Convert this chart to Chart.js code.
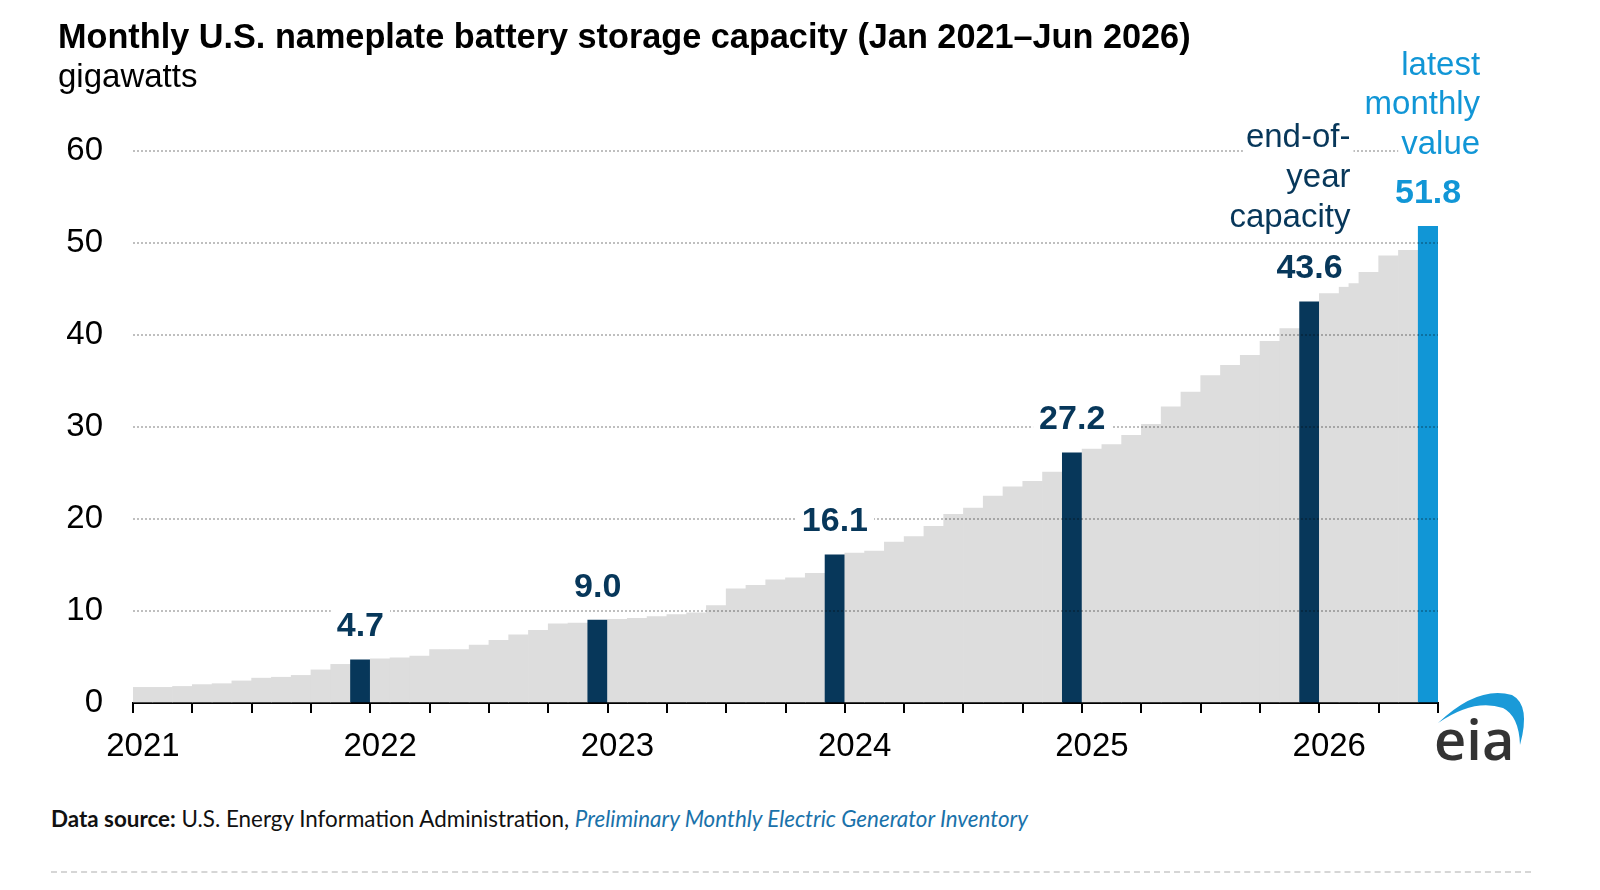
<!DOCTYPE html>
<html>
<head>
<meta charset="utf-8">
<script src="https://cdn.jsdelivr.net/npm/chart.js@4.4.1/dist/chart.umd.min.js"></script>
<style>
  html, body { margin: 0; padding: 0; background: #fff; }
  body { width: 1600px; height: 890px; position: relative; overflow: hidden;
         font-family: "Liberation Sans", Arial, sans-serif; }
  #title { position: absolute; left: 58px; top: 17px; font-size: 34.25px; font-weight: bold;
           color: #000; white-space: nowrap; }
  #unit { position: absolute; left: 58px; top: 57px; font-size: 33px; color: #000; }
  #chartBox { position: absolute; left: 0; top: 0; width: 1600px; height: 790px; }
  #source { position: absolute; left: 51px; top: 805px; font-family: Lato, sans-serif;
            font-size: 22.4px; color: #111; white-space: nowrap; }
  #source i { color: #1a72aa; }
  #rule { position: absolute; left: 51px; top: 871px; width: 1480px; border-top: 2px dashed #d6d6d6; }
  #logo { position: absolute; left: 1428px; top: 683px; }
</style>
</head>
<body>
<div id="chartBox"><canvas id="capChart"></canvas></div>
<div id="title">Monthly U.S. nameplate battery storage capacity (Jan 2021–Jun 2026)</div>
<div id="unit">gigawatts</div>
<div id="source"><b>Data source:</b> U.S. Energy Information Administration, <i>Preliminary Monthly Electric Generator Inventory</i></div>
<div id="rule"></div>
<svg id="logo" width="104" height="84" viewBox="0 0 104 84">
  <path d="M10,40 Q50,2 84,12 Q103,22 92,62 Q91,33 75,25 Q46,15 10,40 Z" fill="#1a9ad8"/>
  <text x="6" y="77" font-family="'Open Sans', sans-serif" font-weight="600" font-size="56" fill="#333">eia</text>
</svg>

<script>
// 1. DATOS
const months = [
  "Jan 2021","Feb 2021","Mar 2021","Apr 2021","May 2021","Jun 2021","Jul 2021","Aug 2021","Sep 2021","Oct 2021","Nov 2021","Dec 2021",
  "Jan 2022","Feb 2022","Mar 2022","Apr 2022","May 2022","Jun 2022","Jul 2022","Aug 2022","Sep 2022","Oct 2022","Nov 2022","Dec 2022",
  "Jan 2023","Feb 2023","Mar 2023","Apr 2023","May 2023","Jun 2023","Jul 2023","Aug 2023","Sep 2023","Oct 2023","Nov 2023","Dec 2023",
  "Jan 2024","Feb 2024","Mar 2024","Apr 2024","May 2024","Jun 2024","Jul 2024","Aug 2024","Sep 2024","Oct 2024","Nov 2024","Dec 2024",
  "Jan 2025","Feb 2025","Mar 2025","Apr 2025","May 2025","Jun 2025","Jul 2025","Aug 2025","Sep 2025","Oct 2025","Nov 2025","Dec 2025",
  "Jan 2026","Feb 2026","Mar 2026","Apr 2026","May 2026","Jun 2026"
];

// gigawatts
const capacityGW = [
  1.7, 1.7, 1.8, 2.0, 2.1, 2.4, 2.7, 2.8, 3.0, 3.6, 4.2, 4.7,
  4.8, 4.9, 5.1, 5.8, 5.8, 6.3, 6.8, 7.4, 7.9, 8.6, 8.7, 9.0,
  9.1, 9.2, 9.4, 9.6, 9.8, 10.6, 12.4, 12.8, 13.4, 13.6, 14.1, 16.1,
  16.3, 16.5, 17.5, 18.1, 19.2, 20.5, 21.2, 22.5, 23.5, 24.1, 25.1, 27.2,
  27.6, 28.1, 29.1, 30.3, 32.2, 33.8, 35.6, 36.7, 37.8, 39.3, 40.7, 43.6,
  44.5, 45.6, 46.8, 48.6, 49.2, 51.8
];

const yearTicks = ["2021", "2022", "2023", "2024", "2025", "2026"];
const yTicks = [0, 10, 20, 30, 40, 50, 60];
const endOfYearNote = ["end-of-", "year", "capacity"];
const latestNote = ["latest", "monthly", "value"];

// 2. ESTILOS
const FONT = "'Liberation Sans', Arial, sans-serif";
const GRAY = "#dddddd";
const NAVY = "#07375a";
const BLUE = "#1196d6";

const lastIdx = capacityGW.length - 1;
const isYearEnd = i => i % 12 === 11;
let lastYearEnd = 0;
capacityGW.forEach((v, i) => { if (isYearEnd(i)) lastYearEnd = i; });

const barColors = capacityGW.map((v, i) =>
  i === lastIdx ? BLUE : (isYearEnd(i) ? NAVY : GRAY));

// 3. ETIQUETAS SOBRE LAS BARRAS
const LABEL_GAP = 33;

function drawNote(ctx, lines, bar, dx, dyBottom, step, color) {
  ctx.font = "33px " + FONT;
  ctx.textAlign = "right";
  const right = bar.x + dx;
  lines.forEach((txt, k) => {
    const cy = bar.y - LABEL_GAP + dyBottom - (lines.length - 1 - k) * step;
    const w = ctx.measureText(txt).width;
    ctx.fillStyle = "#fff";
    ctx.fillRect(right - w - 3, cy - 16, w + 6, 32);
    ctx.fillStyle = color;
    ctx.fillText(txt, right, cy);
  });
}

const barNotes = {
  id: "barNotes",
  afterDraw(chart) {
    const ctx = chart.ctx;
    const bars = chart.getDatasetMeta(0).data;
    ctx.save();
    ctx.textBaseline = "middle";
    capacityGW.forEach((v, i) => {
      if (i !== lastIdx && !isYearEnd(i)) return;
      const bar = bars[i];
      const cy = bar.y - LABEL_GAP;
      const txt = v.toFixed(1);
      ctx.font = "bold 34px " + FONT;
      const w = ctx.measureText(txt).width;
      ctx.fillStyle = "#fff";
      ctx.fillRect(bar.x - w / 2 - 6, cy - 18, w + 12, 36);
      ctx.fillStyle = i === lastIdx ? BLUE : NAVY;
      ctx.textAlign = "center";
      ctx.fillText(txt, bar.x, cy);
    });
    drawNote(ctx, endOfYearNote, bars[lastYearEnd], 41, -51, 40, NAVY);
    drawNote(ctx, latestNote, bars[lastIdx], 52, -49, 39.5, BLUE);
    ctx.restore();
  }
};

// 4. GRÁFICA
new Chart(document.getElementById("capChart"), {
  type: "bar",
  data: {
    labels: months,
    datasets: [{
      data: capacityGW,
      backgroundColor: barColors,
      borderWidth: 0,
      barPercentage: 1,
      categoryPercentage: 1
    }]
  },
  options: {
    responsive: true,
    maintainAspectRatio: false,
    animation: false,
    layout: { padding: { left: 0, top: 151, right: 162, bottom: 0 } },
    plugins: { legend: { display: false }, tooltip: { enabled: false } },
    scales: {
      x: {
        z: 1,
        grid: {
          display: true,
          drawOnChartArea: false,
          drawTicks: true,
          tickLength: 10,
          lineWidth: 2,
          color: c => (c.index === undefined || c.index % 3 === 0) ? "#000" : "rgba(0,0,0,0)"
        },
        border: { display: true, color: "#000", width: 2 },
        ticks: {
          autoSkip: false,
          maxRotation: 0,
          minRotation: 0,
          padding: 14,
          color: "#000",
          font: { family: FONT, size: 33 },
          callback: (v, i) => i % 12 === 0 ? yearTicks[i / 12] : ""
        },
        afterFit: s => { s.height = 87; }
      },
      y: {
        min: yTicks[0],
        max: yTicks[yTicks.length - 1],
        afterBuildTicks: s => { s.ticks = yTicks.map(v => ({ value: v })); },
        ticks: { padding: 30, color: "#000", font: { family: FONT, size: 33 } },
        grid: {
          z: 1,
          drawTicks: false,
          lineWidth: 2,
          color: c => c.tick && c.tick.value === 0 ? "rgba(0,0,0,0)" : "rgba(0,0,0,0.25)"
        },
        border: { display: false, dash: [2, 2] },
        afterFit: s => { s.width = 133; }
      }
    }
  },
  plugins: [barNotes]
});
</script>
</body>
</html>
